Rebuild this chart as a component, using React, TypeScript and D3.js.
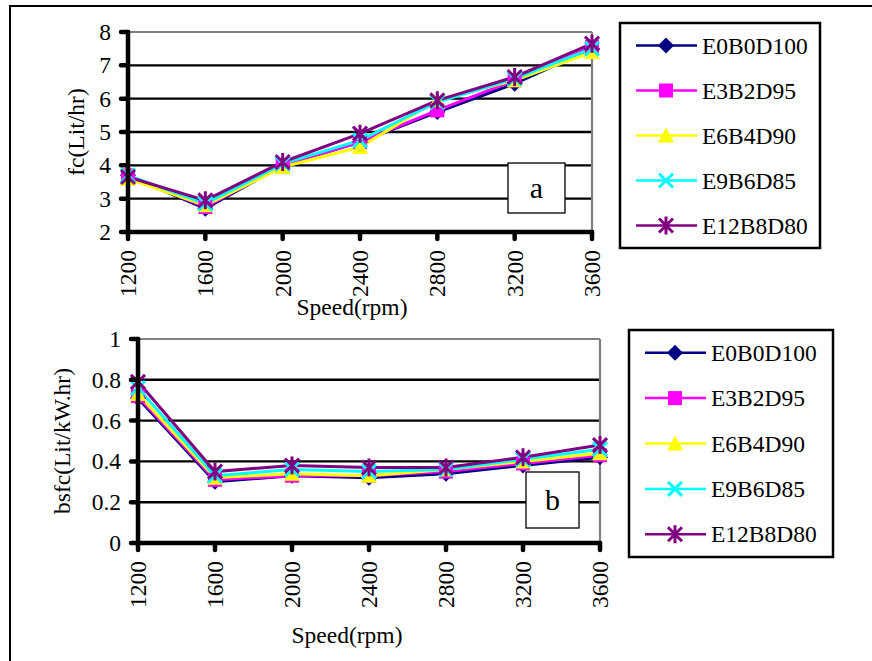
import React from "react";
import * as d3 from "d3";

const speeds = ["1200", "1600", "2000", "2400", "2800", "3200", "3600"];
const seriesNames = ["E0B0D100", "E3B2D95", "E6B4D90", "E9B6D85", "E12B8D80"];
const seriesColors = ["#000080", "#FF00FF", "#FFFF00", "#00FFFF", "#800080"];
const markerTypes = ["diamond", "square", "triangle", "x", "star"];

const fcE0 = [3.7, 2.7, 4.0, 4.7, 5.6, 6.45, 7.5];
const fcE3 = [3.7, 2.75, 4.0, 4.7, 5.65, 6.55, 7.55];
const fcE6 = [3.6, 2.8, 3.95, 4.55, 5.95, 6.55, 7.4];
const fcE9 = [3.7, 2.85, 4.05, 4.75, 5.9, 6.6, 7.5];
const fcE12 = [3.65, 2.95, 4.1, 4.95, 5.95, 6.65, 7.65];

const bsE0 = [0.71, 0.3, 0.33, 0.32, 0.34, 0.38, 0.42];
const bsE3 = [0.72, 0.31, 0.33, 0.33, 0.35, 0.39, 0.43];
const bsE6 = [0.73, 0.32, 0.34, 0.33, 0.36, 0.4, 0.44];
const bsE9 = [0.76, 0.33, 0.36, 0.35, 0.36, 0.41, 0.46];
const bsE12 = [0.79, 0.35, 0.38, 0.37, 0.37, 0.42, 0.48];

const fcTicks = [2, 3, 4, 5, 6, 7, 8];
const bsTicks = [0, 0.2, 0.4, 0.6, 0.8, 1];

const FONT = "'Liberation Serif', 'Times New Roman', serif";
const FS = 23.5;

function Marker({ type, x, y, color }: { type: string; x: number; y: number; color: string }) {
  const s = 7;
  if (type === "diamond")
    return <path d={`M${x},${y - s - 1}L${x + s + 1},${y}L${x},${y + s + 1}L${x - s - 1},${y}Z`} fill={color} />;
  if (type === "square") return <rect x={x - s} y={y - s} width={2 * s} height={2 * s} fill={color} />;
  if (type === "triangle")
    return <path d={`M${x},${y - s - 1}L${x + s + 1},${y + s}L${x - s - 1},${y + s}Z`} fill={color} />;
  if (type === "x")
    return (
      <path d={`M${x - s},${y - s}L${x + s},${y + s}M${x - s},${y + s}L${x + s},${y - s}`} stroke={color} strokeWidth={3} />
    );
  return (
    <path
      d={`M${x - s},${y - s}L${x + s},${y + s}M${x - s},${y + s}L${x + s},${y - s}M${x},${y - s - 2}L${x},${y + s + 2}`}
      stroke={color}
      strokeWidth={3}
    />
  );
}

function Panel(props: {
  x0: number; x1: number; yTop: number; yBot: number; domain: [number, number];
  ticks: number[]; fmt: (v: number) => string; data: number[][]; yTitle: string; yTitleX: number;
  xTitleX: number; xTitleY: number; tagBox: [number, number, number, number]; tag: string;
  legend: [number, number, number, number];
}) {
  const { x0, x1, yTop, yBot, domain, ticks, fmt, data } = props;
  const x = d3.scalePoint<string>().domain(speeds).range([x0, x1]);
  const y = d3.scaleLinear().domain(domain).range([yBot, yTop]);
  const line = d3
    .line<number>()
    .x((_, i) => x(speeds[i]) as number)
    .y((v) => y(v));
  const [lx, ly, lw, lh] = props.legend;
  const step = lh / 5;
  const [bx, by, bw, bh] = props.tagBox;
  return (
    <g fontFamily={FONT}>
      {ticks.slice(1, -1).map((t) => (
        <line key={t} x1={x0} x2={x1} y1={y(t)} y2={y(t)} stroke="#000" strokeWidth={2.4} />
      ))}
      <line x1={x0} x2={x1} y1={yTop} y2={yTop} stroke="#808080" strokeWidth={2.2} />
      <line x1={x1} x2={x1} y1={yTop} y2={yBot} stroke="#808080" strokeWidth={2.2} />
      <rect x={bx} y={by} width={bw} height={bh} fill="#fff" stroke="#000" strokeWidth={1.3} />
      <text x={bx + bw / 2} y={by + bh / 2 + 10} textAnchor="middle" fontSize={30}>
        {props.tag}
      </text>
      {data.map((vals, si) => (
        <path key={si} d={line(vals) as string} fill="none" stroke={seriesColors[si]} strokeWidth={3} />
      ))}
      {data.map((vals, si) =>
        vals.map((v, i) => (
          <Marker key={si + "-" + i} type={markerTypes[si]} x={x(speeds[i]) as number} y={y(v)} color={seriesColors[si]} />
        ))
      )}
      <line x1={x0} x2={x0} y1={yTop} y2={yBot} stroke="#000" strokeWidth={4.5} strokeLinecap="round" />
      <line x1={x0} x2={x1} y1={yBot} y2={yBot} stroke="#000" strokeWidth={4.5} strokeLinecap="round" />
      {ticks.map((t) => (
        <g key={t}>
          <line x1={x0 - 7} x2={x0} y1={y(t)} y2={y(t)} stroke="#000" strokeWidth={4.5} strokeLinecap="round" />
          <text x={x0 - 17} y={y(t) + 8} textAnchor="end" fontSize={FS}>
            {fmt(t)}
          </text>
        </g>
      ))}
      {speeds.map((s) => (
        <g key={s}>
          <line x1={x(s)} x2={x(s)} y1={yBot} y2={yBot + 7} stroke="#000" strokeWidth={4.5} strokeLinecap="round" />
          <text
            transform={`translate(${(x(s) as number) + 8},${yBot + 18}) rotate(-90)`}
            textAnchor="end"
            fontSize={FS}
          >
            {s}
          </text>
        </g>
      ))}
      <text transform={`translate(${props.yTitleX},${(yTop + yBot) / 2}) rotate(-90)`} textAnchor="middle" fontSize={FS}>
        {props.yTitle}
      </text>
      <text x={props.xTitleX} y={props.xTitleY} textAnchor="middle" fontSize={FS}>
        Speed(rpm)
      </text>
      <rect x={lx} y={ly} width={lw} height={lh} fill="#fff" stroke="#000" strokeWidth={2.5} />
      {seriesNames.map((n, i) => {
        const cy = ly + step * (i + 0.5);
        return (
          <g key={n}>
            <line x1={lx + 16} x2={lx + 77} y1={cy} y2={cy} stroke={seriesColors[i]} strokeWidth={2.5} />
            <Marker type={markerTypes[i]} x={lx + 46} y={cy} color={seriesColors[i]} />
            <text x={lx + 82} y={cy + 8} fontSize={FS}>
              {n}
            </text>
          </g>
        );
      })}
    </g>
  );
}

export default function App() {
  return (
    <svg width={872} height={661} style={{ position: "absolute", left: 0, top: 0, background: "#fff" }}>
      <rect x={0} y={0} width={872} height={661} fill="#fff" />
      <rect x={10} y={6} width={880} height={700} fill="none" stroke="#000" strokeWidth={2} />
      <Panel
        x0={128}
        x1={592}
        yTop={32}
        yBot={232}
        domain={[2, 8]}
        ticks={fcTicks}
        fmt={(v) => String(v)}
        data={[fcE0, fcE3, fcE6, fcE9, fcE12]}
        yTitle="fc(Lit/hr)"
        yTitleX={84}
        xTitleX={352}
        xTitleY={315}
        tagBox={[508, 163, 57, 50]}
        tag="a"
        legend={[620, 23, 200, 225]}
      />
      <Panel
        x0={138}
        x1={600}
        yTop={339}
        yBot={543}
        domain={[0, 1]}
        ticks={bsTicks}
        fmt={(v) => (v === 0 || v === 1 ? String(v) : d3.format(".1f")(v))}
        data={[bsE0, bsE3, bsE6, bsE9, bsE12]}
        yTitle="bsfc(Lit/kW.hr)"
        yTitleX={70}
        xTitleX={347}
        xTitleY={643}
        tagBox={[526, 472, 53, 56]}
        tag="b"
        legend={[629, 330, 204, 227]}
      />
    </svg>
  );
}
